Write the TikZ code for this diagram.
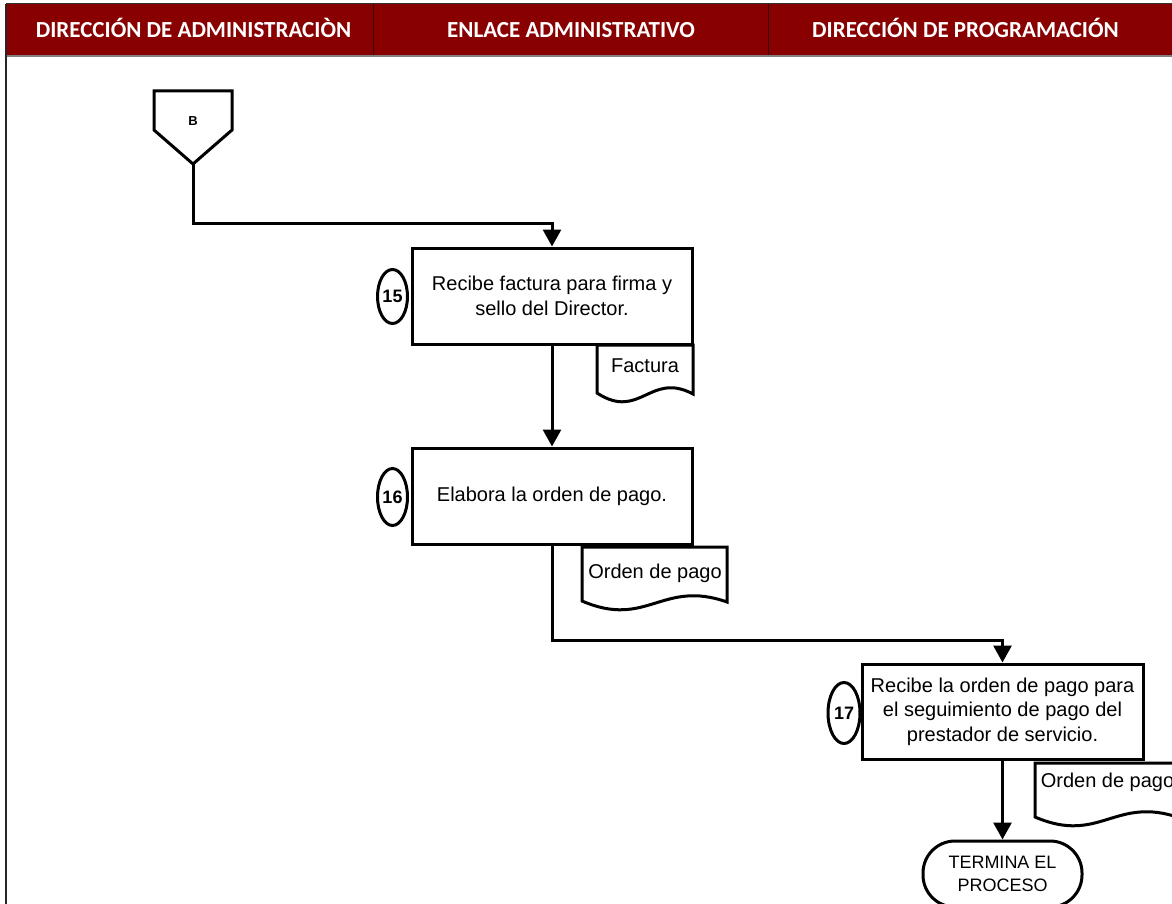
\documentclass[tikz,border=0pt]{standalone}
\usepackage{fontspec}
\setmainfont{Liberation Sans}
\newfontfamily\headfont{Carlito}
\usetikzlibrary{arrows.meta,shapes.geometric}
\definecolor{headred}{RGB}{136,0,0}
\begin{document}
\begin{tikzpicture}[x=1pt,y=-1pt,
  stepbox/.style={draw=black, fill=white, line width=3pt,
    minimum width=280pt, minimum height=96pt, inner sep=2pt,
    align=center, font=\fontsize{20}{24.5}\selectfont},
  numcirc/.style={ellipse, draw=black, fill=white, line width=3pt,
    inner sep=0pt, font=\bfseries\fontsize{18}{20}\selectfont},
  docline/.style={draw=black, fill=white, line width=3pt, line join=miter},
  doclabel/.style={anchor=base, inner sep=0pt, font=\fontsize{20}{24}\selectfont},
  lanehead/.style={text=white, inner sep=0pt, anchor=base,
    font=\headfont\bfseries\fontsize{23}{26}\selectfont},
  arr/.style={line width=3pt, -{Triangle[length=17pt,width=18pt]}},
  endbox/.style={draw=black, fill=white, line width=3pt, rounded corners=32pt,
    minimum width=159pt, minimum height=66pt, align=center,
    font=\fontsize{18}{22.5}\selectfont}
]
\useasboundingbox (0,0) rectangle (1172,904);
\clip (0,0) rectangle (1172,904);

% lane header band
\fill[headred] (6,4) rectangle (1180,56);
\draw[line width=1pt, black!80] (6,4) -- (1180,4);
\draw[line width=1pt, black!60!headred] (373,4) -- (373,56);
\draw[line width=1pt, black!60!headred] (768,4) -- (768,56);
\draw[line width=1.5pt, gray] (6,56) -- (1180,56);
\draw[line width=2pt, black!85] (6,4) -- (6,910);

\node[lanehead] (h1) at (193.5,37.5) {DIRECCIÓN DE ADMINISTRACIÒN};
\node[lanehead] (h2) at (571,37.5) {ENLACE ADMINISTRATIVO};
\node[lanehead] (h3) at (965.5,37.5) {DIRECCIÓN DE PROGRAMACIÓN};

% off-page connector B
\draw[line width=3pt, fill=white, line join=miter]
  (154,91) -- (232,91) -- (232,130) -- (193,164) -- (154,130) -- cycle;
\node[font=\bfseries\fontsize{13}{15}\selectfont] (B) at (193,121) {B};
\coordinate (Bpt) at (193,164);

% documents (drawn first so the boxes cover their tops)
\draw[docline] (597,345) -- (597,393) .. controls (640,421) and (650,371) .. (693,394) -- (693,345) -- cycle;
\node[doclabel] (d15) at (645,372.7) {Factura};

\draw[docline] (582,547) -- (582,601) .. controls (647,629) and (662,579) .. (727,602) -- (727,547) -- cycle;
\node[doclabel] (d16) at (655,578) {Orden de pago};

\draw[docline] (1035,763) -- (1035,817) .. controls (1100,845) and (1115,795) .. (1180,818) -- (1180,763) -- cycle;
\node[doclabel] (d17) at (1107.5,787) {Orden de pago};

% activity boxes
\node[stepbox] (b15) at (552,296) {Recibe factura para firma y\\sello del Director.};
\node[stepbox] (b16) at (552,496) {Elabora la orden de pago.};
\node[stepbox, minimum width=281pt, minimum height=95pt] (b17) at (1002.5,711.5)
  {Recibe la orden de pago para\\el seguimiento de pago del\\prestador de servicio.};

% step numbers
\node[numcirc, minimum width=30pt, minimum height=54pt] (n15) at (392.5,296.5) {15};
\node[numcirc, minimum width=30pt, minimum height=57pt] (n16) at (392.5,497) {16};
\node[numcirc, minimum width=32pt, minimum height=61pt] (n17) at (844,713) {17};

% terminator
\node[endbox] (term) at (1002.5,874) {TERMINA EL\\PROCESO};

% connectors
\coordinate (j1) at (552,223);
\coordinate (j2) at (1002.5,640);
\draw[arr] (Bpt) |- (j1) -- (b15.north);
\draw[arr] (b15.south) -- (b16.north);
\draw[arr] (b16.south) |- (j2) -- (b17.north);
\draw[arr] (b17.south) -- (term.north);
\end{tikzpicture}
\end{document}
